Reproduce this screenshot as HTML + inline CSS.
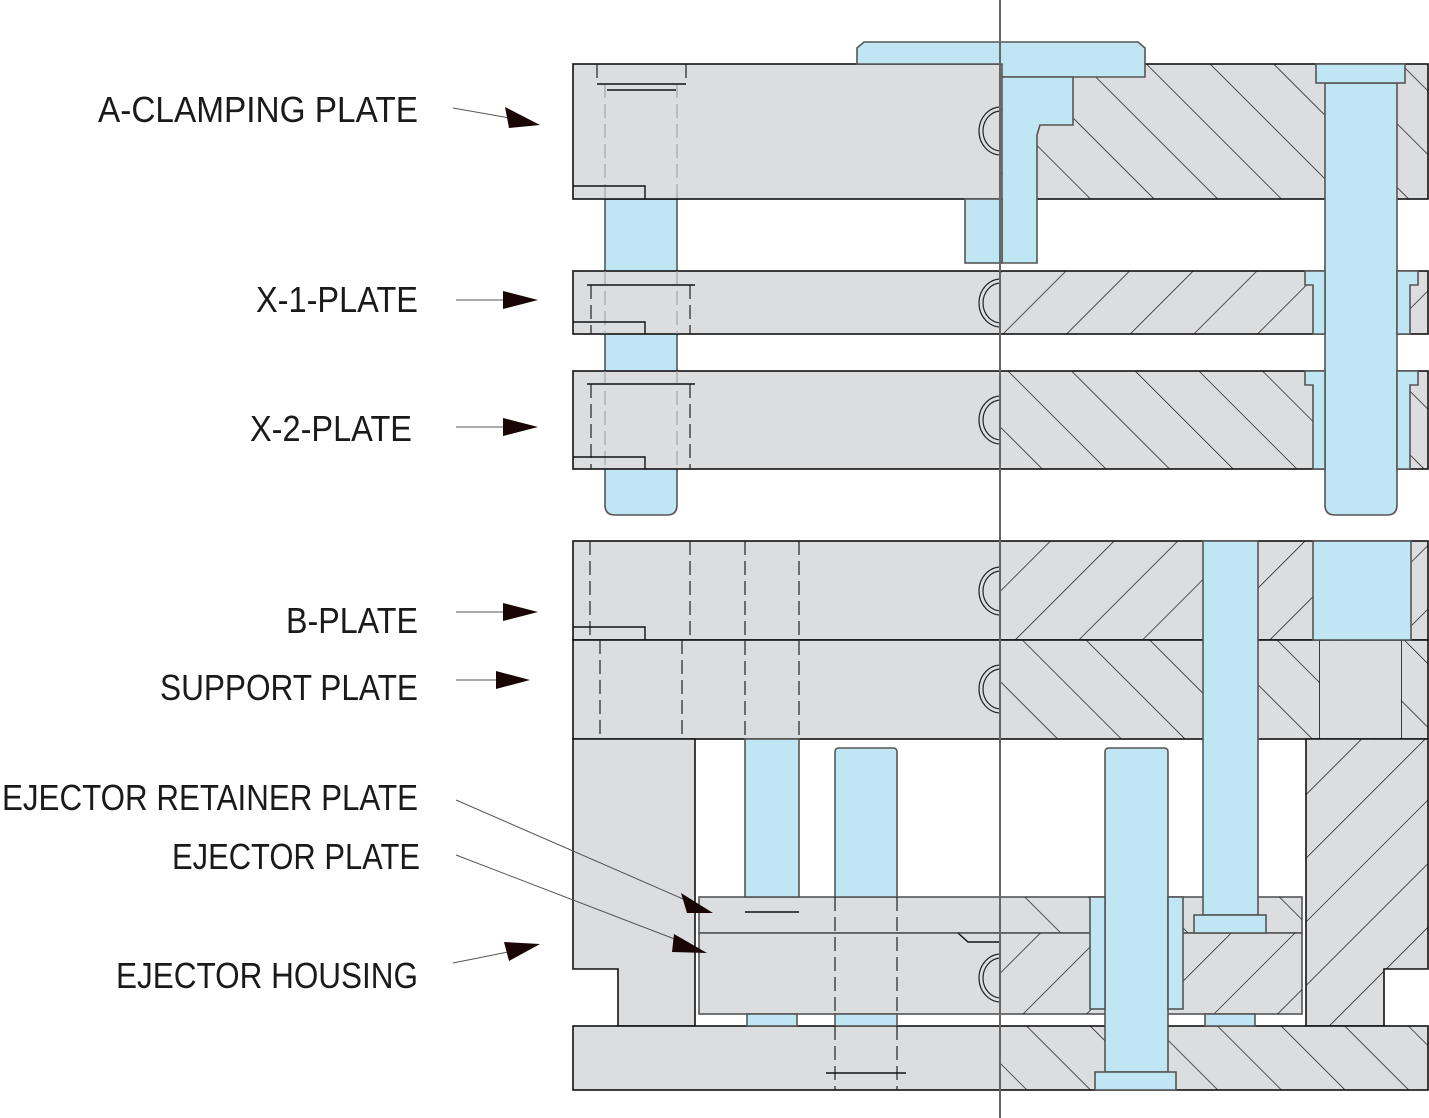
<!DOCTYPE html>
<html><head><meta charset="utf-8"><style>
html,body{margin:0;padding:0;background:#fff}
svg{display:block}
text{font-family:"Liberation Sans Narrow","Liberation Sans",sans-serif;font-size:36px;fill:#1a1a1a}
</style></head><body>
<svg width="1429" height="1118" viewBox="0 0 1429 1118" xmlns="http://www.w3.org/2000/svg">
<defs>
<pattern id="hb" patternUnits="userSpaceOnUse" width="45" height="45" patternTransform="rotate(-45)"><line x1="0" y1="0" x2="0" y2="45" stroke="#111" stroke-width="1.4"/></pattern>
<pattern id="hf" patternUnits="userSpaceOnUse" width="45" height="45" patternTransform="rotate(45)"><line x1="0" y1="0" x2="0" y2="45" stroke="#111" stroke-width="1.4"/></pattern>
</defs>
<path d="M605,199 H677 V505 Q677,515 667,515 H615 Q605,515 605,505 Z" fill="#c0e6f4" stroke="#555" stroke-width="1.6"/>
<g stroke="#111" stroke-width="1.6">
<rect x="573" y="64" width="855" height="135" fill="#dcdddf"/>
<rect x="1001" y="64" width="427" height="135" fill="url(#hb)" stroke="none"/>
<rect x="573" y="271" width="855" height="63" fill="#dcdddf"/>
<rect x="1001" y="271" width="427" height="63" fill="url(#hf)" stroke="none"/>
<rect x="573" y="371" width="855" height="98" fill="#dcdddf"/>
<rect x="1001" y="371" width="427" height="98" fill="url(#hb)" stroke="none"/>
<rect x="573" y="541" width="855" height="99" fill="#dcdddf"/>
<rect x="1001" y="541" width="427" height="99" fill="url(#hf)" stroke="none"/>
<rect x="573" y="640" width="855" height="99" fill="#dcdddf"/>
<rect x="1001" y="640" width="427" height="99" fill="url(#hb)" stroke="none"/>
<polygon points="573,739 695,739 695,1026 618,1026 618,969 573,969" fill="#dcdddf"/>
<polygon points="1306,739 1428,739 1428,969 1384,969 1384,1026 1306,1026" fill="#dcdddf"/>
<polygon points="1306,739 1428,739 1428,969 1384,969 1384,1026 1306,1026" fill="url(#hf)" stroke="none"/>
<rect x="573" y="1026" width="855" height="64" fill="#dcdddf"/>
<rect x="1001" y="1026" width="427" height="64" fill="url(#hb)" stroke="none"/>
<rect x="699" y="897" width="603" height="36" fill="#dcdddf" stroke="#555"/>
<rect x="1001" y="897" width="301" height="36" fill="url(#hb)" stroke="none"/>
<rect x="699" y="933" width="603" height="81" fill="#dcdddf" stroke="#555"/>
<rect x="1001" y="933" width="301" height="81" fill="url(#hf)" stroke="none"/>
<line x1="1320" y1="640" x2="1320" y2="739"/><line x1="1401" y1="640" x2="1401" y2="739"/>
<rect x="1320" y="641" width="81" height="97" fill="#dcdddf" stroke="none"/>
</g>
<g fill="#c0e6f4" stroke="#555" stroke-width="1.6">
<polygon points="857,48 864,42 1138,42 1145,48 1145,77 1002,77 1002,64 857,64"/>
<polygon points="1002,77 1073,77 1073,125 1040,125 1037,135 1037,263 1002,263"/>
<rect x="965" y="199" width="37" height="64"/>
<path d="M1325,83 H1397 V505 Q1397,515 1387,515 H1335 Q1325,515 1325,505 Z"/>
<rect x="1316" y="64" width="89" height="19"/>
<path d="M1305,271 H1325 V334 H1313 V285 H1305 Z"/><path d="M1397,271 H1418 V285 H1410 V334 H1397Z"/>
<path d="M1305,371 H1325 V469 H1313 V385 H1305 Z"/><path d="M1397,371 H1418 V385 H1410 V469 H1397Z"/>
<rect x="1313" y="541" width="98" height="99"/>
<rect x="745" y="739" width="54" height="158"/>
<path d="M835,752 Q835,748 839,748 H893 Q897,748 897,752 V897 H835 Z"/>
<path d="M1105,752 Q1105,748 1109,748 H1164 Q1168,748 1168,752 V1072 H1105 Z"/>
<rect x="1095" y="1072" width="81" height="18"/>
<rect x="1090" y="897" width="15" height="112"/><rect x="1168" y="897" width="15" height="112"/>
<rect x="1203" y="541" width="55" height="374"/>
<rect x="1194" y="915" width="72" height="18"/>
<rect x="747" y="1014" width="50" height="12"/>
<rect x="835" y="1014" width="62" height="12"/>
<rect x="1205" y="1014" width="50" height="12"/>
</g>
<g fill="none" stroke="#222" stroke-width="1.2" stroke-dasharray="14,6">
<line x1="745" y1="541" x2="745" y2="739"/><line x1="799" y1="541" x2="799" y2="739"/>
<line x1="835" y1="1026" x2="835" y2="1090"/><line x1="897" y1="1026" x2="897" y2="1090"/>
<line x1="835" y1="897" x2="835" y2="1014"/><line x1="897" y1="897" x2="897" y2="1014"/>
<line x1="590" y1="541" x2="590" y2="640"/><line x1="690" y1="541" x2="690" y2="640"/>
<line x1="600" y1="640" x2="600" y2="739"/><line x1="682" y1="640" x2="682" y2="739"/>
<line x1="591" y1="285" x2="591" y2="334"/><line x1="690" y1="285" x2="690" y2="334"/>
<line x1="591" y1="384" x2="591" y2="469"/><line x1="690" y1="384" x2="690" y2="469"/>
<line x1="597" y1="64" x2="597" y2="84"/><line x1="686" y1="64" x2="686" y2="84"/>
</g>
<g fill="none" stroke="#999" stroke-width="1" stroke-dasharray="14,6">
<line x1="605" y1="84" x2="605" y2="199"/><line x1="677" y1="84" x2="677" y2="199"/>
<line x1="605" y1="271" x2="605" y2="334"/><line x1="677" y1="271" x2="677" y2="334"/>
<line x1="605" y1="371" x2="605" y2="469"/><line x1="677" y1="371" x2="677" y2="469"/>
</g>
<g stroke="#111" stroke-width="1.4" fill="none">
<line x1="597" y1="84" x2="686" y2="84"/><line x1="607" y1="90" x2="676" y2="90"/>
<polyline points="573,186 645,186 645,199"/>
<line x1="587" y1="285" x2="695" y2="285"/><polyline points="573,322 645,322 645,334"/>
<line x1="587" y1="384" x2="695" y2="384"/><polyline points="573,457 645,457 645,469"/>
<polyline points="573,627 645,627 645,640"/>
<line x1="745" y1="912" x2="799" y2="912"/>
<line x1="826" y1="1073" x2="906" y2="1073"/>
<polyline points="958,933 968,942 1001,942"/>
</g>
<g fill="none" stroke="#222" stroke-width="1.2">
<path d="M1001,107 A22,24 0 0 0 1001,155"/><path d="M1001,111 A18,20 0 0 0 1001,151"/>
<path d="M1001,279 A22,24 0 0 0 1001,327"/><path d="M1001,283 A18,20 0 0 0 1001,323"/>
<path d="M1001,396 A22,24 0 0 0 1001,444"/><path d="M1001,400 A18,20 0 0 0 1001,440"/>
<path d="M1001,567 A22,24 0 0 0 1001,615"/><path d="M1001,571 A18,20 0 0 0 1001,611"/>
<path d="M1001,665 A22,24 0 0 0 1001,713"/><path d="M1001,669 A18,20 0 0 0 1001,709"/>
<path d="M1001,954 A22,24 0 0 0 1001,1002"/><path d="M1001,958 A18,20 0 0 0 1001,998"/>
</g>
<line x1="1000" y1="0" x2="1000" y2="1118" stroke="#666" stroke-width="2"/>
<text x="98" y="122" textLength="320" lengthAdjust="spacingAndGlyphs">A-CLAMPING PLATE</text>
<text x="256" y="312" textLength="162" lengthAdjust="spacingAndGlyphs">X-1-PLATE</text>
<text x="250" y="441" textLength="162" lengthAdjust="spacingAndGlyphs">X-2-PLATE</text>
<text x="286" y="633" textLength="132" lengthAdjust="spacingAndGlyphs">B-PLATE</text>
<text x="160" y="700" textLength="258" lengthAdjust="spacingAndGlyphs">SUPPORT PLATE</text>
<text x="2" y="810" textLength="416" lengthAdjust="spacingAndGlyphs">EJECTOR RETAINER PLATE</text>
<text x="172" y="869" textLength="248" lengthAdjust="spacingAndGlyphs">EJECTOR PLATE</text>
<text x="116" y="988" textLength="302" lengthAdjust="spacingAndGlyphs">EJECTOR HOUSING</text>
<g stroke="#555" stroke-width="1">
<line x1="453" y1="108" x2="510" y2="118"/>
<line x1="456" y1="300" x2="505" y2="300"/>
<line x1="456" y1="427" x2="505" y2="427"/>
<line x1="456" y1="612" x2="505" y2="612"/>
<line x1="456" y1="680" x2="498" y2="680"/>
<line x1="456" y1="800" x2="690" y2="902"/>
<line x1="456" y1="855" x2="685" y2="943"/>
<line x1="453" y1="963" x2="508" y2="952"/>
</g>
<g fill="#1a0505">
<polygon points="540,125 505,107 509,128"/>
<polygon points="538,300 503,291 503,309"/>
<polygon points="538,427 503,418 503,436"/>
<polygon points="538,612 503,603 503,621"/>
<polygon points="530,680 496,671 496,689"/>
<polygon points="713,913 681,893 687,913"/>
<polygon points="707,953 674,934 672,952"/>
<polygon points="540,944 504,942 509,961"/>
</g>
</svg>
</body></html>
